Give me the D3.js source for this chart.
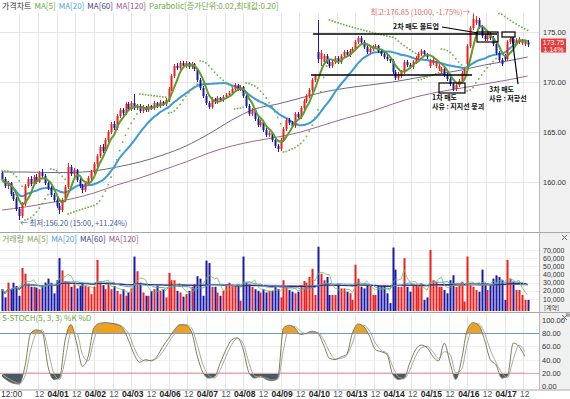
<!DOCTYPE html>
<html><head><meta charset="utf-8">
<script src="https://cdn.jsdelivr.net/npm/d3@7"></script>
<style>body{margin:0;background:#fff;}svg{display:block;}</style>
</head><body><svg id="c" width="570" height="399"></svg>
<script>
// ---------- DATA (30-minute bars) ----------
const open  = [160.9,160.3,159.6,159.9,158.8,158.3,157.3,156.6,157.8,159.6,160.3,159.8,160.5,160.0,160.9,160.6,159.9,159.4,158.7,158.2,157.6,157.2,158.2,159.5,161.5,160.8,161.2,160.2,159.6,159.2,159.9,160.4,161.0,161.8,162.6,163.5,163.1,164.2,165.0,165.8,165.4,166.6,167.2,166.9,167.8,167.3,167.9,167.4,167.6,167.1,167.5,167.2,167.6,167.4,167.9,167.6,168.0,167.8,168.2,169.3,170.6,171.6,171.4,171.9,171.6,171.9,171.5,171.8,171.3,170.2,169.4,168.6,167.9,167.5,168.3,168.0,168.4,168.2,168.5,168.7,168.9,169.3,169.7,169.3,169.5,168.6,167.6,166.8,167.2,166.3,165.7,166.0,165.2,164.7,164.9,164.2,163.6,163.3,164.2,165.3,166.2,165.9,165.6,166.8,166.5,167.4,168.1,168.6,169.2,170.2,173.0,172.3,172.0,172.6,172.0,171.6,172.0,172.4,172.0,172.6,173.0,172.7,173.1,173.3,174.0,174.4,174.0,173.5,173.0,173.3,173.5,173.6,173.1,172.8,172.5,172.3,172.1,171.0,170.4,170.6,171.0,172.0,171.7,171.5,172.0,172.4,172.8,173.1,172.8,171.6,171.9,171.6,171.3,171.0,171.3,170.7,170.3,169.8,169.3,169.7,170.1,170.9,171.8,173.6,175.4,175.9,176.2,175.5,174.6,174.3,174.8,174.4,173.8,172.9,172.2,172.6,172.3,174.0,174.3,173.9,174.0,173.9,173.8,174.0];
const high  = [161.1,160.5,160.1,160.0,159.0,158.5,157.5,158.0,159.8,160.5,160.6,160.7,160.8,161.1,161.3,160.8,160.1,159.6,158.9,158.5,157.9,158.4,159.7,161.9,161.7,161.4,161.3,160.4,159.8,160.1,160.6,161.2,162.0,162.8,163.7,163.8,164.4,165.2,166.0,166.1,166.8,167.4,167.4,168.0,168.0,168.1,168.8,167.8,167.8,167.7,167.6,167.8,167.7,168.1,168.0,168.2,168.1,168.4,169.5,170.8,171.8,171.9,172.1,172.1,172.1,172.0,172.0,171.9,171.4,170.4,169.6,168.8,168.1,168.5,168.4,168.6,168.5,168.7,168.9,169.1,169.5,169.9,169.8,169.7,169.6,168.8,167.8,167.4,167.3,166.5,166.2,166.1,165.4,165.1,165.0,164.4,163.8,164.4,165.5,166.4,166.4,166.1,167.0,167.0,167.6,168.3,168.8,169.4,170.4,170.8,176.2,173.2,172.8,172.8,172.2,172.2,172.6,172.6,172.8,173.2,173.2,173.3,173.5,174.2,174.6,174.6,174.2,173.7,173.5,173.7,173.8,173.7,173.3,173.0,172.7,172.5,172.3,171.2,171.0,171.2,172.2,172.2,171.9,172.2,172.6,173.0,173.3,173.2,172.9,172.3,172.4,172.1,171.8,171.5,171.4,170.9,170.5,170.0,169.9,170.3,171.1,171.4,173.8,175.6,176.85,176.6,176.4,175.7,174.8,175.0,175.0,174.6,174.0,173.1,172.4,172.8,174.2,174.5,174.5,174.4,174.5,174.3,174.2,174.2];
const low   = [160.1,159.4,159.3,158.6,158.1,157.1,156.2,156.4,157.6,159.4,159.6,159.6,159.8,159.9,160.4,159.7,159.2,158.5,158.0,157.4,156.8,157.0,158.0,159.3,160.6,160.5,160.0,159.4,158.9,159.0,159.7,160.2,160.8,161.5,162.4,162.9,162.9,164.0,164.8,165.2,165.2,166.4,166.6,166.7,167.1,167.1,167.2,167.2,166.9,166.9,167.0,167.0,167.2,167.2,167.4,167.4,167.6,167.6,168.0,169.1,170.4,171.2,171.2,171.4,171.4,171.3,171.3,171.1,170.0,169.2,168.4,167.7,167.3,167.3,167.8,167.8,168.0,168.0,168.3,168.5,168.7,169.1,169.1,169.1,168.4,167.4,166.6,166.6,166.1,165.5,165.5,165.0,164.5,164.5,164.0,163.4,163.0,163.1,164.0,165.1,165.7,165.4,165.4,166.3,166.3,167.2,167.9,168.4,169.0,170.0,171.9,171.6,171.7,171.8,171.4,171.4,171.8,171.8,171.8,172.4,172.5,172.5,172.9,173.1,173.8,173.8,173.3,172.8,172.8,173.1,173.3,172.9,172.6,172.3,172.1,171.9,170.8,170.2,170.2,170.4,170.8,171.5,171.3,171.3,171.8,172.2,172.6,172.6,172.3,171.4,171.7,171.4,171.1,170.8,170.5,170.1,169.6,169.1,169.1,169.5,169.9,170.7,171.6,173.4,175.2,175.7,175.3,174.4,174.1,174.1,174.2,173.6,172.7,172.0,171.6,172.1,172.1,173.8,173.7,173.7,173.8,173.7,173.6,173.5];
const close = [160.3,159.6,159.9,158.8,158.3,157.3,156.6,157.8,159.6,160.3,159.8,160.5,160.0,160.9,160.6,159.9,159.4,158.7,158.2,157.6,157.2,158.2,159.5,161.5,160.8,161.2,160.2,159.6,159.2,159.9,160.4,161.0,161.8,162.6,163.5,163.1,164.2,165.0,165.8,165.4,166.6,167.2,166.9,167.8,167.3,167.9,167.4,167.6,167.1,167.5,167.2,167.6,167.4,167.9,167.6,168.0,167.8,168.2,169.3,170.6,171.6,171.4,171.9,171.6,171.9,171.5,171.8,171.3,170.2,169.4,168.6,167.9,167.5,168.3,168.0,168.4,168.2,168.5,168.7,168.9,169.3,169.7,169.3,169.5,168.6,167.6,166.8,167.2,166.3,165.7,166.0,165.2,164.7,164.9,164.2,163.6,163.3,164.2,165.3,166.2,165.9,165.6,166.8,166.5,167.4,168.1,168.6,169.2,170.2,170.6,172.3,172.9,172.6,172.0,171.6,172.0,172.4,172.0,172.6,173.0,172.7,173.1,173.3,174.0,174.4,174.0,173.5,173.0,173.3,173.5,173.6,173.1,172.8,172.5,172.3,172.1,171.0,170.4,170.8,171.0,172.0,171.7,171.5,172.0,172.4,172.8,173.1,172.8,172.5,172.1,172.2,171.9,171.6,171.3,170.7,170.3,169.8,169.3,169.7,170.1,170.9,171.2,173.6,175.4,176.3,176.2,175.5,174.6,174.3,174.8,174.4,173.8,172.9,172.2,171.8,172.3,174.0,174.3,173.9,174.2,174.3,174.1,174.0,173.75];
const volume = [22000,12000,30000,22000,30000,26000,14000,48000,41000,29000,25000,25000,24000,22000,26000,30000,35000,30000,17000,33000,60000,45000,32000,30000,25000,28000,23000,26000,30000,26000,25000,16000,25000,58000,30000,27000,22000,28000,22000,26000,20000,16000,22000,14000,18000,23000,62000,44000,30000,18000,14000,14000,20000,22000,26000,20000,22000,12000,42000,33000,33000,20000,18000,13000,16000,20000,25000,28000,38000,35000,14000,57000,54000,25000,25000,18000,14000,20000,28000,30000,28000,27000,28000,8000,62000,30000,28000,25000,22000,20000,18000,22000,18000,20000,20000,26000,22000,12000,33000,25000,21000,19000,17000,19000,27000,32000,30000,37000,47000,15000,74000,41000,33000,37000,15000,15000,15000,27000,23000,23000,19000,17000,9000,52000,35000,25000,23000,27000,27000,15000,15000,27000,27000,27000,17000,5000,73000,46000,25000,25000,60000,25000,19000,27000,27000,27000,29000,9000,12000,70000,33000,31000,25000,25000,21000,17000,33000,39000,25000,27000,31000,7000,62000,27000,25000,21000,19000,46000,29000,21000,27000,35000,39000,37000,33000,9000,58000,35000,31000,21000,21000,15000,9000,9000];
// slow stochastic (5,3,3) read every 2 bars
const stochK = [15,8,4,3,30,80,85,82,30,10,12,70,93,65,30,45,88,95,96,95,93,88,70,48,36,40,38,45,60,72,85,93,92,82,45,20,12,14,35,55,70,73,55,20,12,15,10,8,12,88,92,88,78,80,83,80,62,42,40,44,48,80,94,90,75,55,52,48,18,10,12,35,55,62,58,45,38,65,35,10,40,85,96,92,70,40,32,12,15,65,60,45];
const stochD = [18,12,7,4,15,55,80,85,55,20,10,40,80,80,48,38,70,92,95,95,94,90,80,58,42,38,39,42,52,66,78,90,93,88,62,32,16,12,25,45,63,72,64,35,15,13,12,9,10,55,88,90,83,79,81,81,70,52,41,42,46,65,88,92,83,65,54,50,30,14,11,24,45,58,60,52,42,52,48,20,25,65,90,94,80,55,36,20,13,40,62,52];
// long moving averages read every 8 bars (+ last bar)
const ma60  = [161.0,161.0,160.95,160.95,161.1,161.5,162.0,162.7,163.6,164.8,166.2,167.3,167.8,168.4,169.0,169.4,169.7,170.0,170.4,170.8,171.2,171.7,172.1,172.5];
const ma120 = [157.2,157.5,157.9,158.3,158.9,159.7,160.4,161.2,162.0,162.9,163.6,164.1,164.5,165.0,165.7,166.4,167.0,167.8,168.5,169.0,169.4,169.8,170.2,170.6];
const xTickLabels = ["","12","04/01","12","04/02","12","04/03","12","04/06","12","04/07","12","04/08","12","04/09","12","04/10","12","04/13","12","04/14","12","04/15","12","04/16","12","04/17","12"];
const priceTicks = [160,165,170,175];
const volTicks = [10000,20000,30000,40000,50000,60000,70000];
const stochTicks = [0,20,40,60,80,100];

// ---------- LAYOUT ----------
const svg = d3.select("#c");
const FONT = "'Noto Sans CJK KR','Noto Sans',sans-serif";
const NUM = "'Liberation Sans',Arial,sans-serif";
const N = close.length, R = 539;
const x = d3.scaleLinear().domain([0, N-1]).range([2, 527.6]);
const yP = d3.scaleLinear().domain([160,175]).range([182,32]);
const yV = d3.scaleLinear().domain([0,70000]).range([307.2,250]);
const yS = d3.scaleLinear().domain([0,100]).range([386,320]);
const P = {p:[13,231], v:[234,311], s:[314,389]};

svg.append("rect").attr("width",570).attr("height",399).attr("fill","#fff");
svg.append("rect").attr("x",R+1).attr("y",0).attr("width",570-R-1).attr("height",390).attr("fill","#f0f0f0");
svg.append("line").attr("x1",R+0.5).attr("x2",R+0.5).attr("y1",0).attr("y2",390).attr("stroke","#b8b8b8");

// vertical grid
const tickPos = xTickLabels.map((d,k)=>6+6.5*k);
const g = svg.append("g");
Object.values(P).forEach(([a,b])=>{
  g.selectAll(null).data(tickPos).enter().append("line")
   .attr("x1",d=>Math.round(x(d))+0.5).attr("x2",d=>Math.round(x(d))+0.5)
   .attr("y1",a).attr("y2",b).attr("stroke","#e6e6e6");
});
// horizontal grid
g.selectAll(null).data(priceTicks).enter().append("line").attr("x1",0).attr("x2",R)
 .attr("y1",d=>Math.round(yP(d))+0.5).attr("y2",d=>Math.round(yP(d))+0.5).attr("stroke","#e6e6e6");
g.selectAll(null).data(volTicks).enter().append("line").attr("x1",0).attr("x2",R)
 .attr("y1",d=>Math.round(yV(d))+0.5).attr("y2",d=>Math.round(yV(d))+0.5).attr("stroke","#f0f0f0");
g.selectAll(null).data([40,60]).enter().append("line").attr("x1",0).attr("x2",R)
 .attr("y1",d=>Math.round(yS(d))+0.5).attr("y2",d=>Math.round(yS(d))+0.5).attr("stroke","#efefef");

// separators
[232,312,389.5].forEach(y=>svg.append("line").attr("x1",0).attr("x2",570).attr("y1",y+0.5).attr("y2",y+0.5).attr("stroke","#a8a8a8"));

// ---------- PRICE ----------
const idx = d3.range(N);
const up = i => close[i] >= open[i];
const RED="#f01e1e", BLUE="#1a1aa8";
function sma(a,n){return a.map((_,i)=>{const s=a.slice(Math.max(0,i-n+1),i+1);return d3.mean(s);});}
function psar(h,l,step,mx){
  const out=[]; let upT=false, af=step, ep=l[0], sar=h[0]; out.push(sar);
  for(let i=1;i<h.length;i++){
    sar = sar + af*(ep-sar);
    if(upT){ sar=Math.min(sar,l[i-1],l[Math.max(0,i-2)]);
      if(l[i]<sar){upT=false;sar=ep;ep=l[i];af=step;} else if(h[i]>ep){ep=h[i];af=Math.min(af+step,mx);} }
    else { sar=Math.max(sar,h[i-1],h[Math.max(0,i-2)]);
      if(h[i]>sar){upT=true;sar=ep;ep=h[i];af=step;} else if(l[i]<ep){ep=l[i];af=Math.min(af+step,mx);} }
    out.push(sar);
  }
  return out;
}
const pg = svg.append("g");
const longIdx = ma60.map((d,k)=> Math.min(k*8, N-1));
pg.append("path").datum(ma120).attr("fill","none").attr("stroke","#9a6a8e").attr("stroke-width",1)
  .attr("d",d3.line().x((d,k)=>x(longIdx[k])).y(d=>yP(d)).curve(d3.curveMonotoneX));
pg.append("path").datum(ma60).attr("fill","none").attr("stroke","#6a6a8a").attr("stroke-width",1)
  .attr("d",d3.line().x((d,k)=>x(longIdx[k])).y(d=>yP(d)).curve(d3.curveMonotoneX));
const ma20 = sma(close,20), ma5 = sma(close,5);
pg.append("path").datum(ma20).attr("fill","none").attr("stroke","#3c9ad6").attr("stroke-width",2)
  .attr("d",d3.line().x((d,i)=>x(i)).y(d=>yP(d)).curve(d3.curveMonotoneX));
// candles
pg.selectAll(null).data(idx).enter().append("line")
  .attr("x1",i=>Math.round(x(i))+0.5).attr("x2",i=>Math.round(x(i))+0.5)
  .attr("y1",i=>yP(high[i])).attr("y2",i=>yP(low[i])).attr("stroke",i=>up(i)?RED:BLUE);
pg.selectAll(null).data(idx).enter().append("rect")
  .attr("x",i=>Math.round(x(i))-0.5).attr("width",2)
  .attr("y",i=>yP(Math.max(open[i],close[i])))
  .attr("height",i=>Math.max(1,Math.abs(yP(open[i])-yP(close[i]))))
  .attr("fill",i=>up(i)?RED:BLUE);
pg.append("path").datum(ma5).attr("fill","none").attr("stroke","#5e9c2c").attr("stroke-width",2)
  .attr("d",d3.line().x((d,i)=>x(i)).y(d=>yP(d)).curve(d3.curveMonotoneX));
const sar = psar(high,low,0.02,0.2);
pg.selectAll(null).data(idx).enter().append("rect")
  .attr("x",i=>x(i)-0.8).attr("y",i=>yP(sar[i])-0.8).attr("width",1.6).attr("height",1.6).attr("fill","#6fae3c");

// ---------- VOLUME ----------
const vg = svg.append("g");
vg.selectAll(null).data(idx).enter().append("rect")
  .attr("x",i=>Math.round(x(i))-0.5).attr("width",2)
  .attr("y",i=>yV(volume[i])).attr("height",i=>311-yV(volume[i]))
  .attr("fill",i=>up(i)?RED:BLUE);
const vLine = (arr,col,w)=>vg.append("path").datum(arr).attr("fill","none").attr("stroke",col).attr("stroke-width",w)
  .attr("d",d3.line().x((d,i)=>x(i)).y(d=>yV(d)));
vLine(sma(volume,120),"#9a6a8e",1);
vLine(sma(volume,60),"#303070",1.2);
vLine(sma(volume,20),"#4aa0d8",1);
vLine(sma(volume,5),"#7ab85a",0.8);

// ---------- STOCHASTIC ----------
const sg = svg.append("g");
const sIdx = stochK.map((d,k)=>k*2);
const defs = svg.append("defs");
defs.append("clipPath").attr("id","cTop").append("rect").attr("x",0).attr("y",P.s[0]).attr("width",R).attr("height",yS(80)-P.s[0]);
defs.append("clipPath").attr("id","cBot").append("rect").attr("x",0).attr("y",yS(20)).attr("width",R).attr("height",P.s[1]-yS(20));
sg.append("path").datum(stochK).attr("clip-path","url(#cTop)").attr("fill","#f0a01c")
  .attr("d",d3.area().x((d,k)=>x(sIdx[k])).y0(yS(80)).y1(d=>yS(d)).curve(d3.curveMonotoneX));
sg.append("path").datum(stochK).attr("clip-path","url(#cBot)").attr("fill","#4a5966")
  .attr("d",d3.area().x((d,k)=>x(sIdx[k])).y0(yS(20)).y1(d=>yS(d)).curve(d3.curveMonotoneX));
sg.append("line").attr("x1",0).attr("x2",R).attr("y1",Math.round(yS(80))+0.5).attr("y2",Math.round(yS(80))+0.5).attr("stroke","#6a9ccc");
sg.append("line").attr("x1",0).attr("x2",R).attr("y1",Math.round(yS(20))+0.5).attr("y2",Math.round(yS(20))+0.5).attr("stroke","#f0a0a0");
sg.append("path").datum(stochD).attr("fill","none").attr("stroke","#a8a8a0").attr("stroke-width",1)
  .attr("d",d3.line().x((d,k)=>x(sIdx[k])).y(d=>yS(d)).curve(d3.curveMonotoneX));
sg.append("path").datum(stochK).attr("fill","none").attr("stroke","#7c7c5c").attr("stroke-width",1)
  .attr("d",d3.line().x((d,k)=>x(sIdx[k])).y(d=>yS(d)).curve(d3.curveMonotoneX));

// ---------- AXES (right) ----------
const ax = svg.append("g").attr("font-family",NUM).attr("font-size","7.5px").attr("fill","#333");
ax.selectAll(null).data(priceTicks).enter().append("text").attr("x",543).attr("y",d=>yP(d)+3).text(d=>d3.format(".2f")(d));
ax.selectAll(null).data(volTicks).enter().append("text").attr("x",543).attr("y",d=>yV(d)+2.5).attr("font-size","7px").text(d=>d3.format(",")(d));
ax.append("text").attr("x",544).attr("y",310).attr("font-family",FONT).attr("font-size","6px").text("[계약]");
ax.selectAll(null).data(stochTicks).enter().append("text").attr("x",542).attr("y",d=>yS(d)+3).text(d=>d3.format(".2f")(d));
ax.append("text").attr("x",566).attr("y",317).attr("font-size","5px").text("%");
// current price box
const last = close[N-1];
svg.append("rect").attr("x",541).attr("y",yP(last)-6).attr("width",25).attr("height",14).attr("fill","#e83c3c");
svg.append("text").attr("x",553.5).attr("y",yP(last)).attr("text-anchor","middle").attr("font-family",NUM).attr("font-size","7px").attr("fill","#fff").text(d3.format(".2f")(last));
svg.append("text").attr("x",553.5).attr("y",yP(last)+7).attr("text-anchor","middle").attr("font-family",NUM).attr("font-size","7px").attr("fill","#fff").text("1.14%");
// close icons
[234,314].forEach(y=>{const gg=svg.append("g").attr("stroke","#666").attr("stroke-width",1);
  gg.append("line").attr("x1",562).attr("x2",567).attr("y1",y+1).attr("y2",y+6);
  gg.append("line").attr("x1",567).attr("x2",562).attr("y1",y+1).attr("y2",y+6);});

// x axis labels
const xl = svg.append("g").attr("font-family",NUM).attr("font-size","8.5px");
xl.selectAll(null).data(xTickLabels.map((t,k)=>({t,p:tickPos[k]})).filter(d=>d.t)).enter().append("text")
  .attr("x",d=>x(d.p)+1.5).attr("y",397).attr("text-anchor","middle")
  .attr("font-weight",d=>d.t==="12"?"normal":"bold").attr("fill",d=>d.t==="12"?"#555":"#222").text(d=>d.t);
xl.append("text").attr("x",1).attr("y",397).attr("fill","#333").text("12:00");

// ---------- TITLES ----------
function legend(y, items){
  const t = svg.append("text").attr("x",2).attr("y",y).attr("font-family",FONT).attr("font-size","8px");
  items.forEach(([s,c],k)=>t.append("tspan").attr("fill",c).attr("dx",k?3:0).text(s));
}
legend(9,[["가격차트","#333"],["MA[5]","#6aaa3a"],["MA[20]","#4aa0d8"],["MA[60]","#40408a"],["MA[120]","#a05090"],["Parabolic[증가단위:0.02,최대값:0.20]","#6aaa3a"]]);
legend(242,[["거래량","#7aa84a"],["MA[5]","#7aaa4a"],["MA[20]","#4aa0d8"],["MA[60]","#40408a"],["MA[120]","#a05090"]]);
legend(321,[["S-STOCH(5, 3, 3) %K %D","#6aaa3a"]]);

// ---------- ANNOTATIONS ----------
const an = svg.append("g").attr("font-family",FONT);
const hiIdx = d3.maxIndex(high), loIdx = d3.minIndex(low);
an.append("text").attr("x",x(hiIdx)-3).attr("y",yP(high[hiIdx])+1).attr("text-anchor","end").attr("font-size","7.5px").attr("fill","#e06a6a")
  .text(`최고:${high[hiIdx].toFixed(2)} (10:00, -1.75%)→`);
an.append("text").attr("x",x(loIdx)+1).attr("y",yP(low[loIdx])+6).attr("font-size","7.5px").attr("fill","#3a5aa0")
  .text(`← 최저:${low[loIdx].toFixed(2)} (15:00, +11.24%)`);
const bl = an.append("g").attr("stroke","#000").attr("stroke-width",1.6);
bl.append("line").attr("x1",313).attr("x2",497).attr("y1",yP(174.8)).attr("y2",yP(174.8));
bl.append("line").attr("x1",311).attr("x2",472).attr("y1",yP(170.7)).attr("y2",yP(170.7));
const bx = an.append("g").attr("stroke","#000").attr("stroke-width",1.2).attr("fill","none");
bx.append("rect").attr("x",439).attr("y",yP(169.9)).attr("width",26).attr("height",10);
bx.append("rect").attr("x",477).attr("y",yP(175.0)).attr("width",21).attr("height",10);
bx.append("rect").attr("x",502).attr("y",yP(175.0)).attr("width",13).attr("height",5);
bx.append("line").attr("x1",442).attr("y1",27).attr("x2",478).attr("y2",33);
bx.append("line").attr("x1",512).attr("y1",yP(174.5)).attr("x2",518).attr("y2",84);
const at = an.append("g").attr("font-size","7px").attr("font-weight","bold").attr("fill","#111");
at.append("text").attr("x",393).attr("y",29).text("2차 매도 볼트업");
at.append("text").attr("x",432).attr("y",100).text("1차 매도");
at.append("text").attr("x",432).attr("y",108.5).text("사유 : 지지선 붕괴");
at.append("text").attr("x",489).attr("y",92).text("3차 매도");
at.append("text").attr("x",489).attr("y",100.5).text("사유 : 저항선");
</script></body></html>
